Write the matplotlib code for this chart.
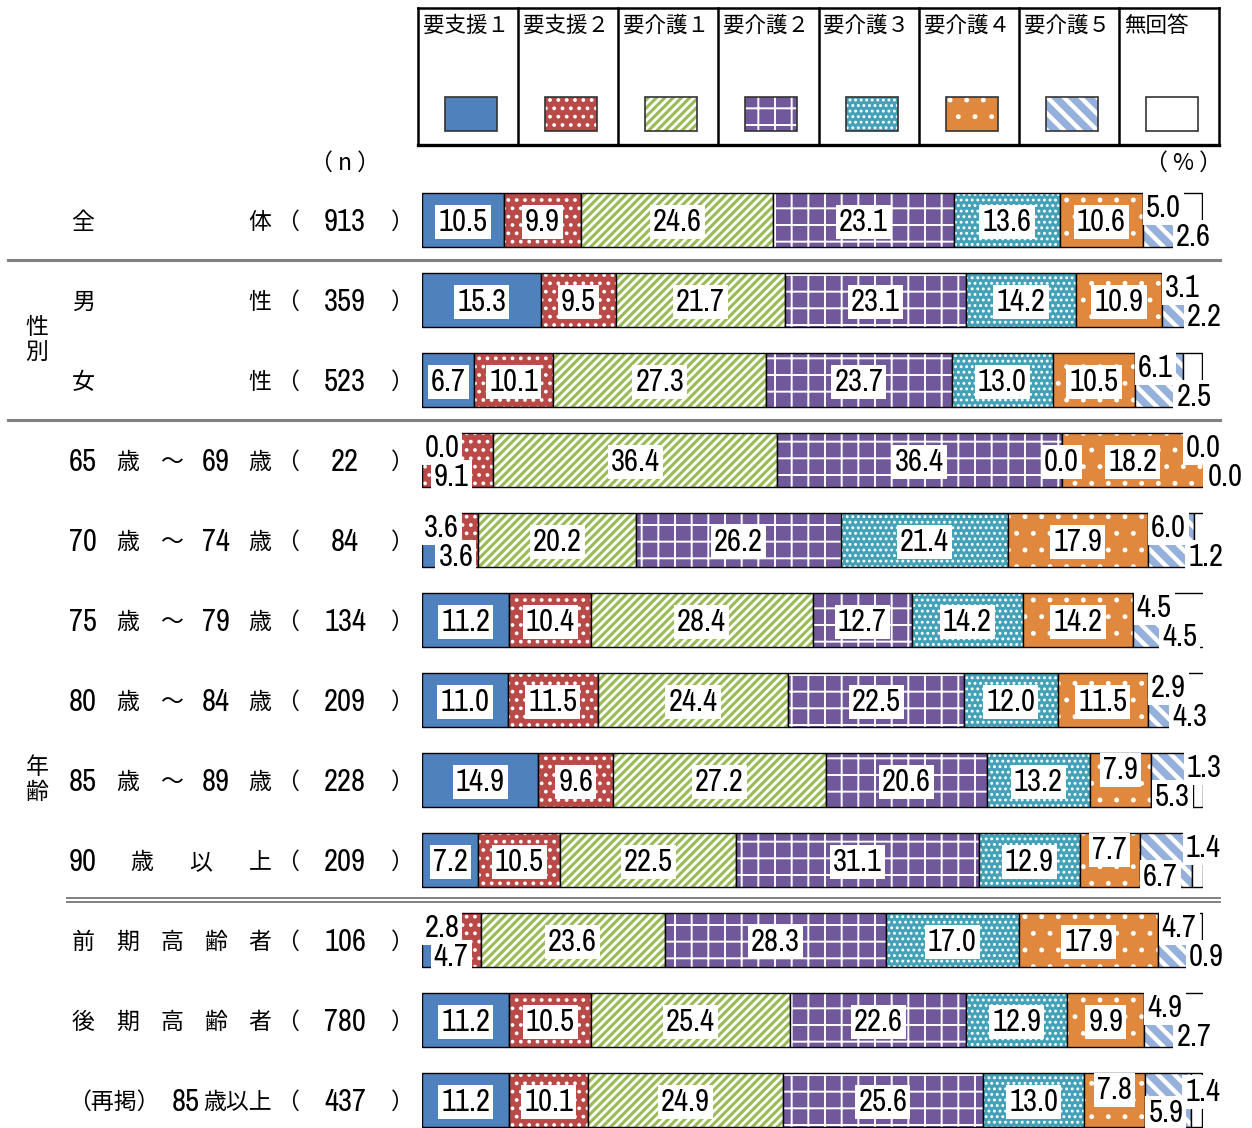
import matplotlib
matplotlib.use('Agg')
import matplotlib.pyplot as plt
import matplotlib.transforms as mtrans
from matplotlib import font_manager
from matplotlib.patches import Rectangle
import numpy as np

# ---- data ----
categories = ['要支援１', '要支援２', '要介護１', '要介護２', '要介護３', '要介護４', '要介護５', '無回答']
row_tokens = [
    ['全', '体'], ['男', '性'], ['女', '性'],
    ['65', '歳', '～', '69', '歳'], ['70', '歳', '～', '74', '歳'],
    ['75', '歳', '～', '79', '歳'], ['80', '歳', '～', '84', '歳'],
    ['85', '歳', '～', '89', '歳'], ['90', '歳', '以', '上'],
    ['前', '期', '高', '齢', '者'], ['後', '期', '高', '齢', '者'],
    ['（再掲）', '85', '歳以上'],
]
n_values = [913, 359, 523, 22, 84, 134, 209, 228, 209, 106, 780, 437]

yoshien1 = [10.5, 15.3, 6.7, 0.0, 3.6, 11.2, 11.0, 14.9, 7.2, 2.8, 11.2, 11.2]
yoshien2 = [9.9, 9.5, 10.1, 9.1, 3.6, 10.4, 11.5, 9.6, 10.5, 4.7, 10.5, 10.1]
kaigo1 = [24.6, 21.7, 27.3, 36.4, 20.2, 28.4, 24.4, 27.2, 22.5, 23.6, 25.4, 24.9]
kaigo2 = [23.1, 23.1, 23.7, 36.4, 26.2, 12.7, 22.5, 20.6, 31.1, 28.3, 22.6, 25.6]
kaigo3 = [13.6, 14.2, 13.0, 0.0, 21.4, 14.2, 12.0, 13.2, 12.9, 17.0, 12.9, 13.0]
kaigo4 = [10.6, 10.9, 10.5, 18.2, 17.9, 14.2, 11.5, 7.9, 7.7, 17.9, 9.9, 7.8]
kaigo5 = [5.0, 3.1, 6.1, 0.0, 6.0, 4.5, 2.9, 5.3, 6.7, 4.7, 4.9, 5.9]
mukaito = [2.6, 2.2, 2.5, 0.0, 1.2, 4.5, 4.3, 1.3, 1.4, 0.9, 2.7, 1.4]
series = [yoshien1, yoshien2, kaigo1, kaigo2, kaigo3, kaigo4, kaigo5, mukaito]

# ---- style ----
colors = ['#4f81bd', '#b94a48', '#9bbb59', '#71589a', '#43a1b8', '#e0893e', '#95b0da', 'white']
hatches = [None, '..', '////', '+', '...', '.', '\\\\', None]
hatch_lw = [1.0, 1.5, 2.0, 1.4, 1.3, 1.1, 3.2, 1.0]
swap_tail = {7, 8, 11}   # rows where the 無回答 label sits on top

# pick a narrow face for the numbers if one is installed
ttf = font_manager.fontManager.ttflist
num_kw = dict(family=['Roboto', 'Noto Sans CJK JP'])
num_fs = 19
narrow_names = [f.name for f in ttf if 'Narrow' in f.name or 'Condensed' in f.name]
if narrow_names:
    num_kw = dict(family=[narrow_names[0], 'Noto Sans CJK JP'])
    num_fs = 22
elif any(f.name == 'DejaVu Sans' and f.stretch == 'condensed' for f in ttf):
    num_kw = dict(family=['DejaVu Sans', 'Noto Sans CJK JP'], fontstretch='condensed')
    num_fs = 20
jp = ['Noto Sans CJK JP', 'DejaVu Sans']
plt.rcParams['font.family'] = jp
jp_fs = 16.5


def set_hlw(patch, lw):
    if hasattr(patch, 'set_hatch_linewidth'):
        patch.set_hatch_linewidth(lw)


fig = plt.figure(figsize=(12.52, 11.28), dpi=100)
ax = fig.add_axes([422 / 1252, 0, (1203 - 422) / 1252, (1128 - 180) / 1128])
ax.set_xlim(0, 100)
ax.set_ylim(11.35, -0.5)
ax.axis('off')

n_rows = len(n_values)
y = np.arange(n_rows)
left = np.zeros(n_rows)
for k, vals in enumerate(series):
    vals = np.array(vals)
    with plt.rc_context({'hatch.linewidth': hatch_lw[k]}):
        if hatches[k]:
            bars = ax.barh(y, vals, left=left, height=0.675, color=colors[k],
                           hatch=hatches[k], edgecolor='white', linewidth=0)
            for b in bars:
                set_hlw(b, hatch_lw[k])
            ax.barh(y, vals, left=left, height=0.675, fill=False,
                    edgecolor='black', linewidth=1)
        else:
            ax.barh(y, vals, left=left, height=0.675, color=colors[k],
                    edgecolor='black', linewidth=1)
    left = left + vals

# value labels
box = dict(boxstyle='square,pad=0.1', fc='white', ec='none')
yo = 0.03
for i in range(n_rows):
    vals = [s[i] for s in series]
    starts = np.cumsum([0] + vals[:-1])
    head_small = min(vals[0], vals[1]) < 5
    swapped = i in swap_tail
    dy = 0.18 if i < n_rows - 1 else 0.13   # keep the last row's lower label on the page
    x6 = min(starts[6] + 0.4, 97.8)
    for k, (v, s0) in enumerate(zip(vals, starts)):
        txt = f'{v:.1f}'
        ha, yy = 'center', i
        if head_small and k == 0:
            x, ha, yy = s0 + 0.3, 'left', i - dy
        elif head_small and k == 1:
            x, ha, yy = max(s0 - 1.5, 1.5), 'left', i + dy
        elif k == 6:
            x, ha = x6, 'left'
            yy = i + dy if swapped else i - dy
        elif k == 7:
            x, ha = max(s0 - 0.8, x6 + 2.8), 'left'
            yy = i - dy if swapped else i + dy
        else:
            x = s0 + v / 2
            if k == 5 and swapped:
                yy = i - 0.15
        ax.text(x, yy + yo, txt, ha=ha, va='center', fontsize=num_fs,
                bbox=box, zorder=5, **num_kw)

# ---- overlay in pixel coordinates: legend table, row labels, rules ----
ov = fig.add_axes([0, 0, 1, 1])
ov.set_xlim(0, 1252)
ov.set_ylim(1128, 0)
ov.axis('off')
rowtf = mtrans.blended_transform_factory(ov.transData, ax.transData)

cw = (1219 - 418) / 8
for j, cat in enumerate(categories):
    cx = 418 + cw * j
    ov.text(cx + 5, 26, cat, ha='left', va='center', fontsize=15.5, family=jp)
    with plt.rc_context({'hatch.linewidth': hatch_lw[j]}):
        r = Rectangle((cx + 27, 97), 52, 34, facecolor=colors[j],
                      hatch=hatches[j], edgecolor='white', linewidth=0)
        set_hlw(r, hatch_lw[j])
        ov.add_patch(r)
    ov.add_patch(Rectangle((cx + 27, 97), 52, 34, fill=False,
                           edgecolor='#333333', linewidth=1.2))
    ov.plot([cx, cx], [8, 145], color='black', lw=1.8)
ov.plot([1219, 1219], [8, 145], color='black', lw=1.8)
ov.plot([418, 1219], [8, 8], color='black', lw=1.8)
ov.plot([418, 1219], [145, 145], color='black', lw=2.4)

ov.text(345, 163, '（ n ）', ha='center', va='center', fontsize=jp_fs, family=jp)
ov.text(1222, 163, '（ % ）', ha='right', va='center', fontsize=jp_fs, family=jp)

for i, toks in enumerate(row_tokens):
    if i == len(row_tokens) - 1:
        # (再掲) row is written in one run, not spread out
        ov.text(68, i + yo, toks[0], ha='left', va='center', fontsize=jp_fs,
                family=jp, transform=rowtf)
        ov.text(172, i + yo, toks[1], ha='left', va='center', fontsize=num_fs,
                transform=rowtf, **num_kw)
        ov.text(272, i + yo, toks[2], ha='right', va='center', fontsize=jp_fs,
                family=jp, transform=rowtf)
    else:
        xs = np.linspace(83, 260, len(toks))
        for t, xx in zip(toks, xs):
            if t.isdigit():
                ov.text(xx, i + yo, t, ha='center', va='center', fontsize=num_fs,
                        transform=rowtf, **num_kw)
            else:
                ov.text(xx, i + yo, t, ha='center', va='center', fontsize=jp_fs,
                        family=jp, transform=rowtf)
    ov.text(276, i + yo, '（', ha='left', va='center', fontsize=jp_fs, family=jp, transform=rowtf)
    ov.text(345, i + yo, str(n_values[i]), ha='center', va='center', fontsize=num_fs,
            transform=rowtf, **num_kw)
    ov.text(391, i + yo, '）', ha='left', va='center', fontsize=jp_fs, family=jp, transform=rowtf)

ov.text(37, 1.5, '性\n別', ha='center', va='center', fontsize=jp_fs, family=jp,
        linespacing=1.15, transform=rowtf)
ov.text(37, 7.0, '年\n齢', ha='center', va='center', fontsize=jp_fs, family=jp,
        linespacing=1.15, transform=rowtf)

# group separators
for yy in (0.5, 2.5):
    ov.plot([8, 1220], [yy, yy], color='#808080', lw=2.2, transform=rowtf)
for yy in (8.47, 8.53):
    ov.plot([67, 1220], [yy, yy], color='#808080', lw=1.4, transform=rowtf)

fig.savefig('out.png', dpi=100)
